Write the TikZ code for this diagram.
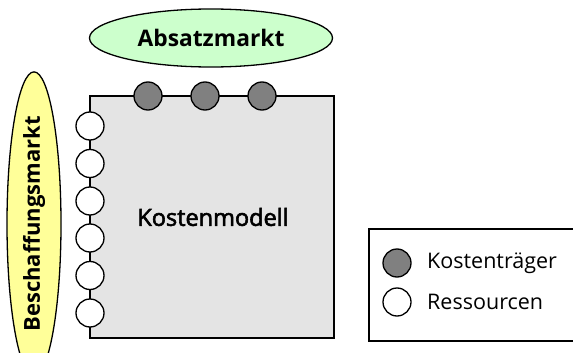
\documentclass[tikz,border=0pt]{standalone}
\usepackage{fontspec}
\setmainfont{Open Sans}
\newfontfamily\mediumface[FakeBold=2.5]{Open Sans}
\usetikzlibrary{shapes.geometric}
\definecolor{boxgray}{HTML}{E4E4E4}
\definecolor{carrier}{HTML}{808080}
\definecolor{salesgreen}{HTML}{CCFFCC}
\definecolor{supplyyellow}{HTML}{FFFF99}
\tikzset{
  market/.style={ellipse, draw=black, line width=1.3pt, inner sep=0pt},
  carrierdot/.style={circle, draw=black, fill=carrier, line width=1.3pt, minimum size=28pt, inner sep=0pt},
  resourcedot/.style={circle, draw=black, fill=white, line width=1.3pt, minimum size=28pt, inner sep=0pt},
  label/.style={font=\fontsize{21.5}{25}\selectfont, anchor=west, inner sep=0pt}
}
\begin{document}
\begin{tikzpicture}[x=1pt,y=-1pt]
\useasboundingbox (0,0) rectangle (573,353);
% markets
\node[market, fill=salesgreen, minimum width=243pt, minimum height=58pt] (absatz) at (211,38)
  {\fontsize{22.8}{26}\selectfont\bfseries Absatzmarkt};
\node[market, fill=supplyyellow, minimum width=54pt, minimum height=258pt] (beschaffung) at (34,224)
  {\rotatebox{90}{\fontsize{22}{26}\selectfont\bfseries Beschaffungsmarkt}};
% cost model
\node[draw=black, fill=boxgray, line width=2pt, minimum width=244pt, minimum height=242pt, inner sep=0pt] (modell) at (212,217) {};
\node[font=\fontsize{23.5}{27}\selectfont\mediumface] (modelltext) at (213,217) {Kostenmodell};
% cost carriers on the top edge
\foreach \x [count=\i] in {148,205,262}
  \node[carrierdot] (k\i) at (\x,96) {};
% resources on the left edge
\foreach \y [count=\i] in {126,163.5,201,238,275.5,313}
  \node[resourcedot] (r\i) at (90,\y) {};
% legend
\node[draw=black, line width=1.5pt, minimum width=220pt, minimum height=112pt, inner sep=0pt, anchor=north west] (legende) at (368,228) {};
\node[carrierdot] (lk) at (397,263) {};
\node[resourcedot] (lr) at (397,302) {};
\node[label] (lktext) at (427,263) {Kostenträger};
\node[label] (lrtext) at (427,302) {Ressourcen};
\end{tikzpicture}
\end{document}
